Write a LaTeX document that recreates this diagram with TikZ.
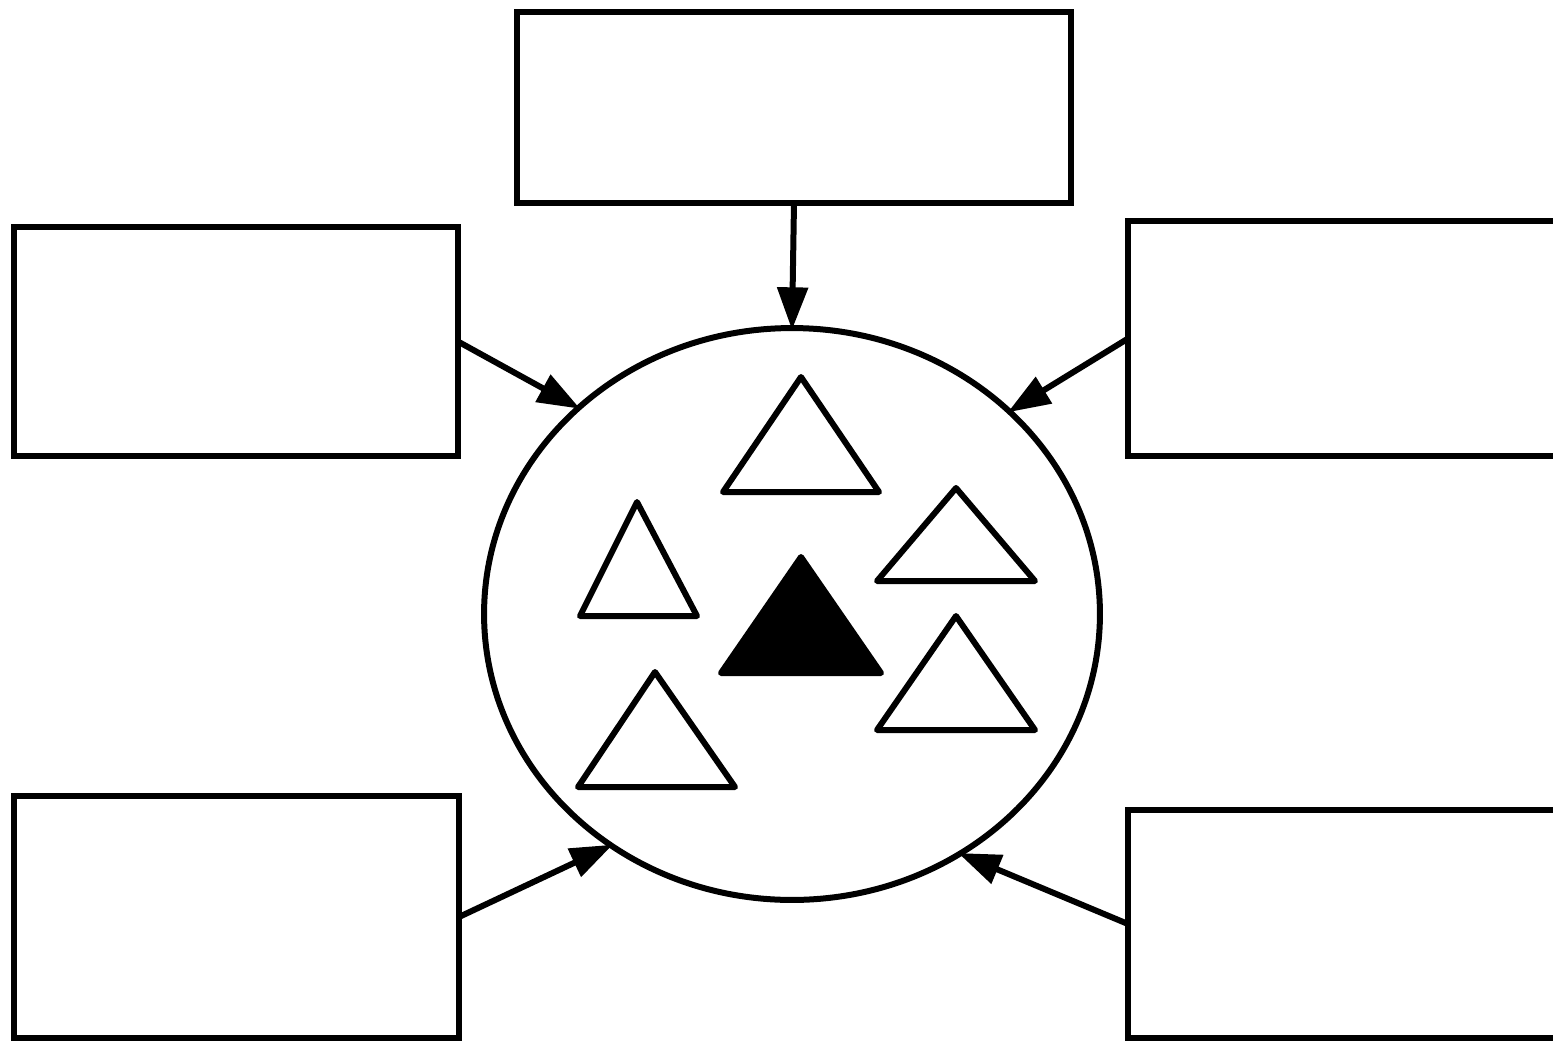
\documentclass[tikz,border=0pt]{standalone}
\usetikzlibrary{arrows.meta,shapes.geometric}
\begin{document}
\begin{tikzpicture}[x=0.02cm,y=-0.02cm,
  ln/.style={line width=0.12cm},
  boxnode/.style={ln,draw,rectangle,inner sep=0pt,outer sep=0pt},
  conn/.style={ln,-{Triangle[length=0.85cm,width=0.6cm]},shorten >=-1pt},
  tri/.style={ln,draw,line join=round},
  filltri/.style={ln,draw,fill=black,line join=round}]
\clip (0,0) rectangle (1553,1042);
\fill[white] (0,0) rectangle (1553,1042);
\node[boxnode,minimum width=11.08cm,minimum height=3.82cm] (top) at (794,107.5) {};
\node[boxnode,minimum width=8.88cm,minimum height=4.58cm] (lt) at (236,341.5) {};
\node[boxnode,minimum width=9.44cm,minimum height=4.7cm] (rt) at (1364,338.5) {};
\node[boxnode,minimum width=8.9cm,minimum height=4.84cm] (lb) at (236.5,917) {};
\node[boxnode,minimum width=9.44cm,minimum height=4.56cm] (rb) at (1364,924) {};
\node[ln,draw,ellipse,inner sep=0pt,outer sep=0pt,minimum width=12.32cm,minimum height=11.44cm] (circ) at (792,614) {};
\draw[conn] (top.south) -- (circ.90);
\draw[conn] (lt.east) -- (circ.136);
\draw[conn] (rt.west) -- (circ.43);
\draw[conn] (lb.east) -- (circ.232);
\draw[conn] (rb.west) -- (circ.305);
\draw[tri] (801,377) -- (879,492) -- (723,492) -- cycle;
\draw[tri] (637,502) -- (697,616) -- (580,616) -- cycle;
\draw[tri] (956,488) -- (1035,581) -- (877,581) -- cycle;
\draw[filltri] (801,557) -- (881,673) -- (721,673) -- cycle;
\draw[tri] (956,616) -- (1035,730) -- (877,730) -- cycle;
\draw[tri] (655,672) -- (735,787) -- (578,787) -- cycle;
\end{tikzpicture}
\end{document}
